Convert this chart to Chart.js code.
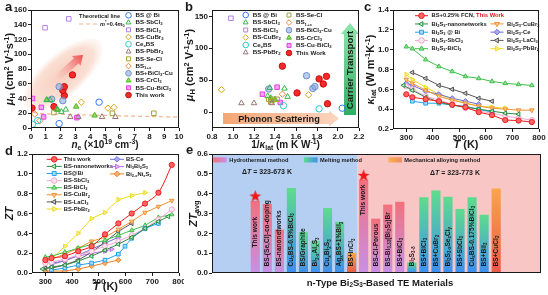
<!DOCTYPE html>
<html>
<head>
<meta charset="utf-8">
<title>n-type Bi2S3 figure</title>
<script src="https://cdn.jsdelivr.net/npm/chart.js@4.4.1/dist/chart.umd.min.js"></script>
<style>
  body { margin: 0; background: #fff; }
  #fig { position: relative; width: 548px; height: 295px; overflow: hidden; }
  #fig canvas { position: absolute; }
</style>
</head>
<body>
<div id="fig">
  <canvas id="chartA" width="184" height="150" style="left:0;top:0"></canvas>
  <canvas id="chartB" width="184" height="150" style="left:180px;top:0"></canvas>
  <canvas id="chartC" width="188" height="150" style="left:360px;top:0"></canvas>
  <canvas id="chartD" width="184" height="155" style="left:0;top:140px"></canvas>
  <canvas id="chartE" width="365" height="155" style="left:183px;top:140px"></canvas>
</div>
<script>
// ---------- data ----------
// a : Hall mobility vs carrier concentration  [n (1e19 cm-3), mu]
const aBSBi     = [[1.9, 6], [4.6, 35]];
const aSbCl3    = [[1.05, 38], [1.3, 38], [1.8, 25], [2.05, 22], [2.35, 25]];
const aBiCl3    = [[0.95, 136], [2.55, 148]];
const aCuBr2    = [[3.4, 35], [5.2, 27], [5.6, 28]];
const aCe       = [[0.1, 5], [0.45, 10]];
const aPbBr2    = [[2.65, 15], [3.2, 15], [4.8, 15], [5.7, 15]];
const aSeCl     = [[1.55, 21], [5.5, 20], [8.3, 20]];
const aBS1x     = [[0.25, 19], [0.6, 10]];
const aBiCl3Cu  = [[1.4, 39], [1.9, 56], [2.15, 37]];
const aCrCl3    = [[1.1, 38], [1.75, 25], [3.05, 29], [4.3, 17]];
const aCuBiCl3  = [[0.1, 40], [0.7, 28], [0.85, 15], [3.1, 14]];
const aThisWork = [[0.07, 27], [1.55, 29], [2.25, 44], [2.15, 51], [2.25, 56], [2.8, 72]];
const theoN  = [0.15, 0.5, 1, 2, 3, 4, 5, 6, 7, 8, 9, 10];
const theoMu = [21, 20, 19.3, 18.5, 18, 17.5, 17, 16.5, 16, 15.6, 15.2, 14.8];
const aLabels = ['BS @ Bi', 'BS-SbCl_3', 'BS-BiCl_3', 'BS-CuBr_2', 'Ce_xBS', 'BS-PbBr_2', 'BS-Se-Cl',
                 'BS_{1+x}', 'BS+BiCl_3-Cu', 'BS-CrCl_3', 'BS-Cu-BiCl_3', 'This work'];

// b : mobility vs 1/kappa_lat  [1/k, mu]
const bBSBi     = [[2.04, 6]];
const bSbCl3    = [[1.35, 38], [1.49, 37], [1.52, 24], [1.33, 25]];
const bBiCl3    = [[0.98, 147]];
const bCuBr2    = [[0.89, 35], [1.72, 27]];
const bCe       = [[1.48, 10], [1.82, 5]];
const bPbBr2    = [[1.08, 14], [1.2, 14], [1.37, 14]];
const bSeCl     = [[1.34, 20], [1.38, 20], [1.42, 20], [1.36, 16]];
const bBS1x     = [[1.47, 28]];
const bBiCl3Cu  = [[1.34, 36], [1.70, 57], [1.76, 37], [1.78, 40]];
const bCrCl3    = [[1.37, 18], [1.40, 20], [1.36, 22]];
const bCuBiCl3  = [[1.28, 28], [1.42, 39], [1.45, 15]];
const bThisWork = [[1.47, 72], [1.89, 56], [1.82, 52], [1.86, 44], [1.61, 30], [1.90, 13]];
const bLabels = ['BS @ Bi', 'BS-SbCl_3', 'BS-BiCl_3', 'BS-CuBr_2', 'Ce_xBS', 'BS-PbBr_2', 'BS-Se-Cl',
                 'BS_{1+x}', 'BS-BiCl_3-Cu', 'BS-CrCl_3', 'BS-Cu-BiCl_3', 'This Work'];

// c : lattice thermal conductivity vs T
const tFull = [300, 323, 373, 423, 473, 523, 573, 623, 673, 723, 773];
const cThis   = [0.55, 0.52, 0.50, 0.48, 0.445, 0.42, 0.37, 0.34, 0.29, 0.285, 0.27];
const cNanoT  = [290, 323, 373, 423, 473, 523, 573, 623, 673, 723];
const cNano   = [0.64, 0.59, 0.52, 0.47, 0.44, 0.42, 0.40, 0.38, 0.36, 0.35];
const cBiT    = [323, 373, 423, 473, 523, 573, 623];
const cBi     = [0.48, 0.46, 0.46, 0.44, 0.43, 0.40, 0.37];
const cSbCl3  = [0.63, 0.60, 0.53, 0.49, 0.45, 0.41, 0.38, 0.36, 0.33, 0.31, 0.29];
const cBiCl3  = [1.03, 1.01, 0.90, 0.83, 0.78, 0.73, 0.71, 0.68, 0.66, 0.65, 0.64];
const cCuBr2  = [0.70, 0.66, 0.59, 0.53, 0.49, 0.46, 0.43, 0.41, 0.40, 0.39, 0.39];
const cCeT    = [300, 323, 373, 423, 473, 523, 573];
const cCe     = [0.66, 0.64, 0.58, 0.55, 0.51, 0.48, 0.45];
const cLaT    = [323, 373, 423, 473, 523, 573, 623];
const cLaCl3  = [0.77, 0.71, 0.64, 0.60, 0.56, 0.51, 0.48];
const cPbT    = [300, 323, 373, 423, 473, 523, 573, 623, 673];
const cPbBr2  = [0.75, 0.70, 0.62, 0.55, 0.50, 0.46, 0.43, 0.42, 0.41];
const cLabels = ['BS+0.25% FCN, ~This Work~', 'Bi_2S_3-nanonetworks', 'Bi_2S_3 @ Bi', 'Bi_2S_3-SbCl_3',
                 'Bi_2S_3-BiCl_3', 'Bi_2S_3-CuBr_2', 'Bi_2S_3-Ce', 'Bi_2S_3-LaCl_3', 'Bi_2S_3-PbBr_2'];

// d : ZT vs T
const dThis   = [0.13, 0.15, 0.17, 0.22, 0.27, 0.39, 0.50, 0.60, 0.70, 0.81, 1.09];
const dNanoT  = [290, 323, 373, 423, 473, 523, 573, 623, 673, 723, 760];
const dNano   = [0.04, 0.06, 0.08, 0.12, 0.17, 0.23, 0.29, 0.36, 0.45, 0.52, 0.57];
const dBiT    = [323, 373, 423, 473, 523, 573, 598, 623, 673, 723];
const dBi     = [0.03, 0.05, 0.08, 0.10, 0.13, 0.19, 0.27, 0.35, 0.45, 0.50];
const dSbCl3  = [0.10, 0.11, 0.14, 0.18, 0.22, 0.27, 0.32, 0.38, 0.45, 0.54, 0.64];
const dBiCl3  = [0.16, 0.17, 0.21, 0.25, 0.29, 0.33, 0.38, 0.43, 0.48, 0.56, 0.59];
const dCuBr2  = [0.12, 0.14, 0.19, 0.25, 0.32, 0.36, 0.44, 0.52, 0.61, 0.67, 0.73];
const dLaT    = [300, 323, 373, 423, 473, 523, 573, 623];
const dLaCl3  = [0.05, 0.05, 0.08, 0.13, 0.21, 0.31, 0.42, 0.50];
const dPbT    = [323, 373, 423, 473, 523, 573, 623, 673];
const dPbBr2  = [0.14, 0.27, 0.40, 0.55, 0.61, 0.74, 0.78, 0.81];
const dCeT    = [323, 373, 423, 473, 523, 573];
const dCe     = [0.10, 0.12, 0.18, 0.24, 0.30, 0.36];
const dNi3T   = [323, 373, 423, 473, 523, 548];
const dNi3    = [0.08, 0.13, 0.17, 0.20, 0.22, 0.24];
const dNiST   = [300, 373, 423, 473, 523, 573];
const dNiS    = [0.02, 0.02, 0.04, 0.07, 0.10, 0.13];
const dLabels = ['This work', 'BS-nanonetworks', 'BS@Bi', 'BS-SbCl_3', 'BS-BiCl_3', 'BS-CuBr_2',
                 'BS-LaCl_3', 'BS-PbBr_2', 'BS-Ce', 'Ni_3Bi_2S_3', 'Bi_{2-x}Ni_xS_3'];

// e : average ZT of n-type Bi2S3 materials
const eLabels = ['This work', 'BS-(Se,Cl)-co-doping', 'BS-nanonetworks', 'Cu_xBS-0.5%BiCl_3', 'BS/Graphite',
                 'Bi_{2-x}Al_xS_3', 'Cu_xBi_2S_3', 'Ag_xBS+1%BiI_3', 'BS+InCl_3',
                 'This work', 'BS-Cl-Porous', 'BS-Bi_{0.33}(Bi_2S_3)Br', 'BS+BiCl_3', 'Bi_2S_{3-δ}', 'BS+BiCl_3',
                 'BS+CuBr_2', 'Bi_2S_{3-x}Se_xCl_y', 'BS+SbCl_3', 'Cu_xBS-0.175%BiCl_3', 'BS+BiI_3', 'BS+CuCl_2'];
const eValues = [0.364, 0.348, 0.219, 0.429, 0.207, 0.162, 0.328, 0.258, 0.101,
                 0.471, 0.274, 0.345, 0.359, 0.054, 0.382, 0.416, 0.384, 0.323, 0.382, 0.294, 0.426];
const eMethod = ['H', 'H', 'H', 'M', 'M', 'M', 'M', 'M', 'A',
                 'H', 'H', 'H', 'H', 'M', 'M', 'M', 'M', 'M', 'M', 'M', 'A'];
const eStarIdx = [0, 9];
const eStarVal = [0.388, 0.492];

// ---------- helpers ----------
const FONT = '"Liberation Sans", Arial, Helvetica, sans-serif';
const INK = '#1a1a1a';
Chart.defaults.font.family = FONT;

function richParts(str) {
  const parts = [];
  let italic = false, red = false, i = 0;
  const push = (t, m) => {
    const last = parts[parts.length - 1];
    if (last && last.m === m && last.italic === italic && last.red === red) last.t += t;
    else parts.push({ t, m, italic, red });
  };
  while (i < str.length) {
    const ch = str[i];
    if (ch === '|') { italic = !italic; i++; continue; }
    if (ch === '~') { red = !red; i++; continue; }
    if (ch === '_' || ch === '^') {
      const m = ch === '_' ? 1 : 2;
      if (str[i + 1] === '{') {
        const j = str.indexOf('}', i + 2);
        push(str.slice(i + 2, j), m); i = j + 1;
      } else { push(str[i + 1], m); i += 2; }
      continue;
    }
    push(ch, 0); i++;
  }
  return parts;
}

// text with _sub ^sup |italic| ~red~
function drawRich(ctx, str, x, y, size, opt = {}) {
  const parts = richParts(str);
  const weight = opt.weight || 'bold';
  const font = p => (p.italic ? 'italic ' : '') + weight + ' ' + (p.m ? size * 0.68 : size).toFixed(2) + 'px ' + FONT;
  let w = 0;
  parts.forEach(p => { ctx.font = font(p); p.w = ctx.measureText(p.t).width; w += p.w; });
  ctx.save();
  ctx.translate(x, y);
  if (opt.rot) ctx.rotate(opt.rot);
  let cx = opt.align === 'center' ? -w / 2 : opt.align === 'right' ? -w : 0;
  ctx.textAlign = 'left';
  ctx.textBaseline = 'middle';
  parts.forEach(p => {
    ctx.font = font(p);
    ctx.fillStyle = p.red ? '#e8141a' : (opt.color || INK);
    const dy = p.m === 1 ? size * 0.28 : p.m === 2 ? -size * 0.32 : 0;
    ctx.fillText(p.t, cx, dy);
    cx += p.w;
  });
  ctx.restore();
  return w;
}

function mark(ctx, ds, x, y, r) {
  ctx.save();
  ctx.fillStyle = ds.pointBackgroundColor || ds.backgroundColor;
  ctx.strokeStyle = ds.pointBorderColor || ds.borderColor;
  ctx.lineWidth = 1;
  Chart.helpers.drawPoint(ctx, { pointStyle: ds.pointStyle, rotation: ds.pointRotation || 0, radius: r, borderWidth: 1 }, x, y);
  ctx.restore();
}

function legendCol(chart, idxs, x, y0, step, size, opt = {}) {
  const ctx = chart.ctx, dss = chart.data.datasets;
  idxs.forEach((di, k) => {
    const ds = dss[di], y = y0 + k * step;
    if (opt.line) {
      ctx.save();
      ctx.strokeStyle = ds.borderColor; ctx.lineWidth = 1;
      ctx.beginPath(); ctx.moveTo(x - opt.line, y); ctx.lineTo(x + opt.line, y); ctx.stroke();
      ctx.restore();
    }
    mark(ctx, ds, x, y, opt.r || 2.8);
    drawRich(ctx, ds.label, x + (opt.tx || 7), y, size);
  });
}

function fatArrow(ctx, x1, y1, x2, y2, bodyW, headW, headL, fill) {
  const ang = Math.atan2(y2 - y1, x2 - x1), len = Math.hypot(x2 - x1, y2 - y1);
  ctx.save();
  ctx.translate(x1, y1); ctx.rotate(ang);
  ctx.beginPath();
  ctx.moveTo(0, -bodyW / 2); ctx.lineTo(len - headL, -bodyW / 2); ctx.lineTo(len - headL, -headW / 2);
  ctx.lineTo(len, 0);
  ctx.lineTo(len - headL, headW / 2); ctx.lineTo(len - headL, bodyW / 2); ctx.lineTo(0, bodyW / 2);
  ctx.closePath();
  ctx.fillStyle = typeof fill === 'function' ? fill(ctx, len) : fill;
  ctx.fill();
  ctx.restore();
}

const framePlugin = {
  id: 'frame',
  afterDraw(chart) {
    const a = chart.chartArea, c = chart.ctx;
    c.save(); c.strokeStyle = INK; c.lineWidth = 1;
    c.strokeRect(Math.round(a.left) + 0.5, Math.round(a.top) + 0.5, Math.round(a.right - a.left) - 1, Math.round(a.bottom - a.top) - 1);
    c.restore();
  }
};

function axis(min, max, step, digits, fit, horizontal) {
  return {
    type: 'linear', min, max,
    border: { display: false },
    grid: { drawOnChartArea: false, tickLength: 3, color: INK, lineWidth: 1 },
    ticks: {
      stepSize: step, includeBounds: false, autoSkip: false, maxRotation: 0, padding: 1,
      color: INK, font: { family: FONT, size: 8, weight: 'bold' },
      callback: v => digits ? v.toFixed(digits) : String(v)
    },
    afterFit(s) {
      if (horizontal) { s.height = fit; s.paddingLeft = 0; s.paddingRight = 0; }
      else { s.width = fit; s.paddingTop = 0; s.paddingBottom = 0; }
    }
  };
}

function makeChart(id, type, data, scales, pad, deco) {
  return new Chart(document.getElementById(id), {
    type, data,
    options: {
      responsive: false, animation: false, events: [],
      layout: { padding: pad },
      plugins: { legend: { display: false }, tooltip: { enabled: false } },
      scales
    },
    plugins: [framePlugin, { id: 'deco' + id, beforeDatasetsDraw: deco.before, afterDraw: deco.after }]
  });
}

// marker styles shared by a and b
const scatStyles = [
  { s: 'circle',   c: '#3a78e6', f: 'rgba(255,255,255,0)' },
  { s: 'triangle', c: '#35b84a', f: 'rgba(255,255,255,0)' },
  { s: 'rect',     c: '#b77ee0', f: 'rgba(255,255,255,0)' },
  { s: 'rectRot',  c: '#d9a514', f: 'rgba(255,255,255,0)' },
  { s: 'circle',   c: '#2cc6d0', f: 'rgba(255,255,255,0)' },
  { s: 'triangle', c: '#9a7878', f: 'rgba(255,255,255,0)' },
  { s: 'rect',     c: '#a6a23a', f: 'rgba(255,255,255,0)' },
  { s: 'rectRot',  c: '#f08a3c', f: 'rgba(255,255,255,0)' },
  { s: 'circle',   c: '#6f8fc8', f: 'rgba(140,170,225,0.6)' },
  { s: 'triangle', c: '#58b82c', f: '#8fd85a' },
  { s: 'rect',     c: '#e23fe2', f: '#f6a0f6' },
  { s: 'circle',   c: '#c80e0e', f: '#f22a2a' }
];
function scat(label, pts, st) {
  return {
    label, data: pts.map(p => ({ x: p[0], y: p[1] })), showLine: false,
    pointStyle: st.s, borderColor: st.c, backgroundColor: st.f,
    pointRadius: 3.2, pointBorderWidth: 1
  };
}

// line styles shared by c and d
const stThis = { c: '#ee1c1c', f: '#ff6464', s: 'circle' };
const stNano = { c: '#2e8b45', f: '#c0efc6', s: 'triangle', rot: -90 };
const stBi   = { c: '#1fa3ef', f: '#a6dcfb', s: 'rect' };
const stSb   = { c: '#f2a6cf', f: '#fde6f2', s: 'circle' };
const stBiCl = { c: '#3fbf4a', f: '#93e39a', s: 'triangle' };
const stCuBr = { c: '#f29233', f: '#fbc98c', s: 'triangle', rot: 180 };
const stCe   = { c: '#6e6fd0', f: '#a9aaf0', s: 'rectRot' };
const stLa   = { c: '#555555', f: '#c8c8c8', s: 'triangle', rot: -90 };
const stPb   = { c: '#eedc1a', f: '#f7ef8c', s: 'triangle', rot: 90 };
const stNi3  = { c: '#c46cf0', f: '#e2b8f8', s: 'triangle', rot: 90 };
const stNiS  = { c: '#f07f1f', f: '#f8b46e', s: 'rectRot' };
function lineSet(label, T, v, st, tension) {
  return {
    label, data: T.map((t, i) => ({ x: t, y: v[i] })),
    borderColor: st.c, backgroundColor: st.f, pointBackgroundColor: st.f, pointBorderColor: st.c,
    pointStyle: st.s, pointRotation: st.rot || 0, pointRadius: 2.6, pointBorderWidth: 1,
    borderWidth: 1, tension: tension || 0
  };
}

// ---------- a ----------
const aSeries = [aBSBi, aSbCl3, aBiCl3, aCuBr2, aCe, aPbBr2, aSeCl, aBS1x, aBiCl3Cu, aCrCl3, aCuBiCl3, aThisWork];
const aSets = aSeries.map((s, i) => scat(aLabels[i], s, scatStyles[i]));
aSets.push({
  label: 'theory', data: theoN.map((n, i) => ({ x: n, y: theoMu[i] })), showLine: true,
  borderColor: '#f3b48e', borderDash: [4, 3], borderWidth: 1.2, pointRadius: 0
});
makeChart('chartA', 'scatter', { datasets: aSets },
  { x: axis(0, 10, 1, 0, 22, true), y: axis(0, 160, 20, 0, 31, false) },
  { top: 10, right: 4, left: 0, bottom: 0 },
  {
    before(chart) {
      const ctx = chart.ctx, xs = chart.scales.x, ys = chart.scales.y, a = chart.chartArea;
      const cx = xs.getPixelForValue(2.15), cy = ys.getPixelForValue(72);
      ctx.save();
      ctx.translate(cx, cy); ctx.rotate(-0.72); ctx.scale(1, 0.42);
      const g = ctx.createRadialGradient(0, 0, 0, 0, 0, 50);
      g.addColorStop(0, 'rgba(243,165,135,0.55)');
      g.addColorStop(0.75, 'rgba(245,185,160,0.45)');
      g.addColorStop(1, 'rgba(248,205,185,0.1)');
      ctx.fillStyle = g;
      ctx.beginPath(); ctx.arc(0, 0, 50, 0, Math.PI * 2); ctx.fill();
      ctx.restore();
      fatArrow(ctx, a.left + 26, a.top + 68, a.left + 52, a.top + 45, 7, 13, 9, (c, len) => {
        const gr = c.createLinearGradient(0, 0, len, 0);
        gr.addColorStop(0, 'rgba(245,170,170,0.05)');
        gr.addColorStop(1, '#ee4a4a');
        return gr;
      });
    },
    after(chart) {
      const ctx = chart.ctx, a = chart.chartArea;
      drawRich(ctx, 'a', 5, 7, 13);
      drawRich(ctx, '|μ|_H (cm^2 V^{-1}s^{-1})', 10, (a.top + a.bottom) / 2, 11, { rot: -Math.PI / 2, align: 'center' });
      drawRich(ctx, '|n|_e (×10^{19} cm^{-3})', (a.left + a.right) / 2, 145, 10, { align: 'center' });
      drawRich(ctx, 'Theoretical line', 79, 16, 5.6);
      ctx.save(); ctx.strokeStyle = '#f3b48e'; ctx.lineWidth = 1.2; ctx.setLineDash([4, 3]);
      ctx.beginPath(); ctx.moveTo(79, 24); ctx.lineTo(97, 24); ctx.stroke(); ctx.restore();
      drawRich(ctx, '|m|^*=0.4|m|_0', 100, 24, 5.6);
      legendCol(chart, [0, 1, 2, 3, 4, 5, 6, 7, 8, 9, 10, 11], 128.5, 15.3, 7.25, 6.2);
    }
  });

// ---------- b ----------
const bSeries = [bBSBi, bSbCl3, bBiCl3, bCuBr2, bCe, bPbBr2, bSeCl, bBS1x, bBiCl3Cu, bCrCl3, bCuBiCl3, bThisWork];
const bSets = bSeries.map((s, i) => scat(bLabels[i], s, scatStyles[i]));
makeChart('chartB', 'scatter', { datasets: bSets },
  { x: axis(0.8, 2.2, 0.2, 1, 22, true), y: axis(-25, 160, 50, 0, 32, false) },
  { top: 10, right: 2, left: 0, bottom: 0 },
  {
    before(chart) {
      const ctx = chart.ctx, a = chart.chartArea;
      const yA = a.bottom - 9.5;
      fatArrow(ctx, a.left + 11, yA, a.left + 127, yA, 11, 16, 10, (c, len) => {
        const g = c.createLinearGradient(0, 0, len, 0);
        g.addColorStop(0, '#f4a674'); g.addColorStop(1, '#fbd6bf');
        return g;
      });
      drawRich(ctx, 'Phonon Scattering', a.left + 67, yA + 0.5, 9.2, { align: 'center' });
      const xA = a.left + 138;
      fatArrow(ctx, xA, a.bottom - 13, xA, a.top + 13, 12, 18, 11, (c, len) => {
        const g = c.createLinearGradient(0, 0, len, 0);
        g.addColorStop(0, '#2fae62'); g.addColorStop(1, '#8fe6ad');
        return g;
      });
      drawRich(ctx, 'Carrier Transport', xA, a.top + 60, 9.6, { rot: -Math.PI / 2, align: 'center' });
    },
    after(chart) {
      const ctx = chart.ctx, a = chart.chartArea;
      drawRich(ctx, 'b', 5, 7, 13);
      drawRich(ctx, '|μ|_H (cm^2 V^{-1}s^{-1})', 10, a.top + 55, 11, { rot: -Math.PI / 2, align: 'center' });
      drawRich(ctx, '1/|κ|_{lat} (m K W^{-1})', (a.left + a.right) / 2, 145, 10, { align: 'center' });
      legendCol(chart, [0, 1, 2, 3, 4, 5], 65.7, 15, 7.5, 6.2);
      legendCol(chart, [6, 7, 8, 9, 10, 11], 109, 15, 7.6, 6.2);
    }
  });

// ---------- c ----------
const cSets = [
  lineSet(cLabels[0], tFull, cThis, stThis),
  lineSet(cLabels[1], cNanoT, cNano, stNano),
  lineSet(cLabels[2], cBiT, cBi, stBi),
  lineSet(cLabels[3], tFull, cSbCl3, stSb),
  lineSet(cLabels[4], tFull, cBiCl3, stBiCl),
  lineSet(cLabels[5], tFull, cCuBr2, stCuBr),
  lineSet(cLabels[6], cCeT, cCe, stCe),
  lineSet(cLabels[7], cLaT, cLaCl3, stLa),
  lineSet(cLabels[8], cPbT, cPbBr2, stPb)
];
makeChart('chartC', 'line', { datasets: cSets },
  { x: axis(250, 800, 100, 0, 21, true), y: axis(0.2, 1.4, 0.2, 1, 33, false) },
  { top: 10, right: 9, left: 0, bottom: 0 },
  {
    after(chart) {
      const ctx = chart.ctx, a = chart.chartArea;
      drawRich(ctx, 'c', 4, 7, 13);
      drawRich(ctx, '|κ|_{lat} (W m^{-1}K^{-1})', 11, (a.top + a.bottom) / 2, 11, { rot: -Math.PI / 2, align: 'center' });
      drawRich(ctx, '|T| (K)', (a.left + a.right) / 2, 145, 11, { align: 'center' });
      legendCol(chart, [0, 1, 2, 3, 4], 61.5, 15.7, 8.25, 5.8, { line: 6.5, tx: 10 });
      legendCol(chart, [5, 6, 7, 8], 137, 23.9, 8.25, 5.8, { line: 6.5, tx: 10 });
    }
  });

// ---------- d ----------
const dSets = [
  lineSet(dLabels[0], tFull, dThis, stThis, 0.35),
  lineSet(dLabels[1], dNanoT, dNano, stNano),
  lineSet(dLabels[2], dBiT, dBi, stBi),
  lineSet(dLabels[3], tFull, dSbCl3, stSb),
  lineSet(dLabels[4], tFull, dBiCl3, stBiCl),
  lineSet(dLabels[5], tFull, dCuBr2, stCuBr),
  lineSet(dLabels[6], dLaT, dLaCl3, stLa),
  lineSet(dLabels[7], dPbT, dPbBr2, stPb),
  lineSet(dLabels[8], dCeT, dCe, stCe),
  lineSet(dLabels[9], dNi3T, dNi3, stNi3),
  lineSet(dLabels[10], dNiST, dNiS, stNiS)
];
makeChart('chartD', 'line', { datasets: dSets },
  { x: axis(250, 800, 100, 0, 22, true), y: axis(0, 1.2, 0.2, 1, 32, false) },
  { top: 14, right: 5, left: 0, bottom: 0 },
  {
    after(chart) {
      const ctx = chart.ctx, a = chart.chartArea;
      drawRich(ctx, 'd', 5, 11, 13);
      drawRich(ctx, '|ZT|', 10, (a.top + a.bottom) / 2, 11, { rot: -Math.PI / 2, align: 'center' });
      drawRich(ctx, '|T| (K)', (a.left + a.right) / 2, 147, 11, { align: 'center' });
      legendCol(chart, [0, 1, 2, 3, 4, 5, 6, 7], 54.2, 19.3, 7.1, 5.8, { line: 7.5, tx: 9.5 });
      legendCol(chart, [8, 9, 10], 117, 19.3, 7.3, 5.8, { line: 7, tx: 9 });
    }
  });

// ---------- e ----------
const methodColors = { H: ['#f2707c', '#c890e6'], M: ['#5edc8c', '#3f8ff0'], A: ['#f9a648', '#e85a4c'] };
const starImg = document.createElement('canvas');
starImg.width = starImg.height = 13;
(function () {
  const s = starImg.getContext('2d');
  s.beginPath();
  for (let k = 0; k < 10; k++) {
    const r = k % 2 ? 2.6 : 6.2, t = -Math.PI / 2 + k * Math.PI / 5;
    s.lineTo(6.5 + r * Math.cos(t), 6.8 + r * Math.sin(t));
  }
  s.closePath(); s.fillStyle = '#f01818'; s.fill();
})();

const eAxisY = axis(0, 0.6, 0.1, 1, 29, false);
const eAxisX = {
  type: 'linear', min: -0.86, max: 20.99, display: true,
  grid: { display: false }, border: { display: false }, ticks: { display: false },
  afterFit(s) { s.height = 22; s.paddingLeft = 0; s.paddingRight = 0; }
};
makeChart('chartE', 'bar', {
  datasets: [
    {
      type: 'line', label: 'stars', data: eStarIdx.map((i, k) => ({ x: i, y: eStarVal[k] })),
      showLine: false, pointStyle: starImg, pointRadius: 6
    },
    {
      label: 'ZTavg', data: eValues.map((v, i) => ({ x: i, y: v })),
      barPercentage: 0.76, categoryPercentage: 1,
      backgroundColor(ctx) {
        const ch = ctx.chart, cols = methodColors[eMethod[ctx.dataIndex]] || methodColors.M;
        if (!ch.chartArea || ctx.type !== 'data') return cols[0];
        const ys = ch.scales.y;
        const g = ch.ctx.createLinearGradient(0, ys.getPixelForValue(eValues[ctx.dataIndex]), 0, ys.getPixelForValue(0));
        g.addColorStop(0, cols[0]); g.addColorStop(1, cols[1]);
        return g;
      }
    }
  ]
}, { x: eAxisX, y: eAxisY }, { top: 14, right: 3, left: 0, bottom: 0 },
  {
    before(chart) {
      const ctx = chart.ctx, a = chart.chartArea, xs = chart.scales.x;
      const mid = xs.getPixelForValue(8.5);
      ctx.save();
      ctx.fillStyle = '#b5cff3'; ctx.fillRect(a.left, a.top, mid - a.left, a.bottom - a.top);
      ctx.fillStyle = '#f9c6c6'; ctx.fillRect(mid, a.top, a.right - mid, a.bottom - a.top);
      ctx.restore();
    },
    after(chart) {
      const ctx = chart.ctx, a = chart.chartArea;
      const meta = chart.getDatasetMeta(1);
      meta.data.forEach((bar, i) => {
        if (eLabels[i] === 'This work') drawRich(ctx, eLabels[i], bar.x, bar.y + (i ? 5 : 16), 6.6, { rot: -Math.PI / 2, align: 'right' });
        else drawRich(ctx, eLabels[i], bar.x, bar.base - 6, 6.6, { rot: -Math.PI / 2 });
      });
      // method legend
      const sw = (x, cols, txt) => {
        const g = ctx.createLinearGradient(x, 0, x + 13.5, 0);
        g.addColorStop(0, cols[0]); g.addColorStop(1, cols[1]);
        ctx.fillStyle = g; ctx.fillRect(x, 17.3, 13.5, 5.2);
        drawRich(ctx, txt, x + 16, 20, 5.7);
      };
      sw(30.3, methodColors.H, 'Hydrothermal method');
      sw(121, methodColors.M, 'Melting method');
      sw(205.3, ['#f9b25a', '#f08a5a'], 'Mechanical alloying method');
      drawRich(ctx, 'Δ|T| = 323-673 K', 84, 32, 7, { align: 'center' });
      drawRich(ctx, 'Δ|T| = 323-773 K', 272, 33, 7, { align: 'center' });
      drawRich(ctx, 'e', 3, 10, 13);
      drawRich(ctx, '|ZT|_{avg}', 11, (a.top + a.bottom) / 2, 11, { rot: -Math.PI / 2, align: 'center' });
      drawRich(ctx, 'n-Type Bi_2S_3-Based TE Materials', 197, 143, 9.5, { align: 'center' });
    }
  });
</script>
</body>
</html>
